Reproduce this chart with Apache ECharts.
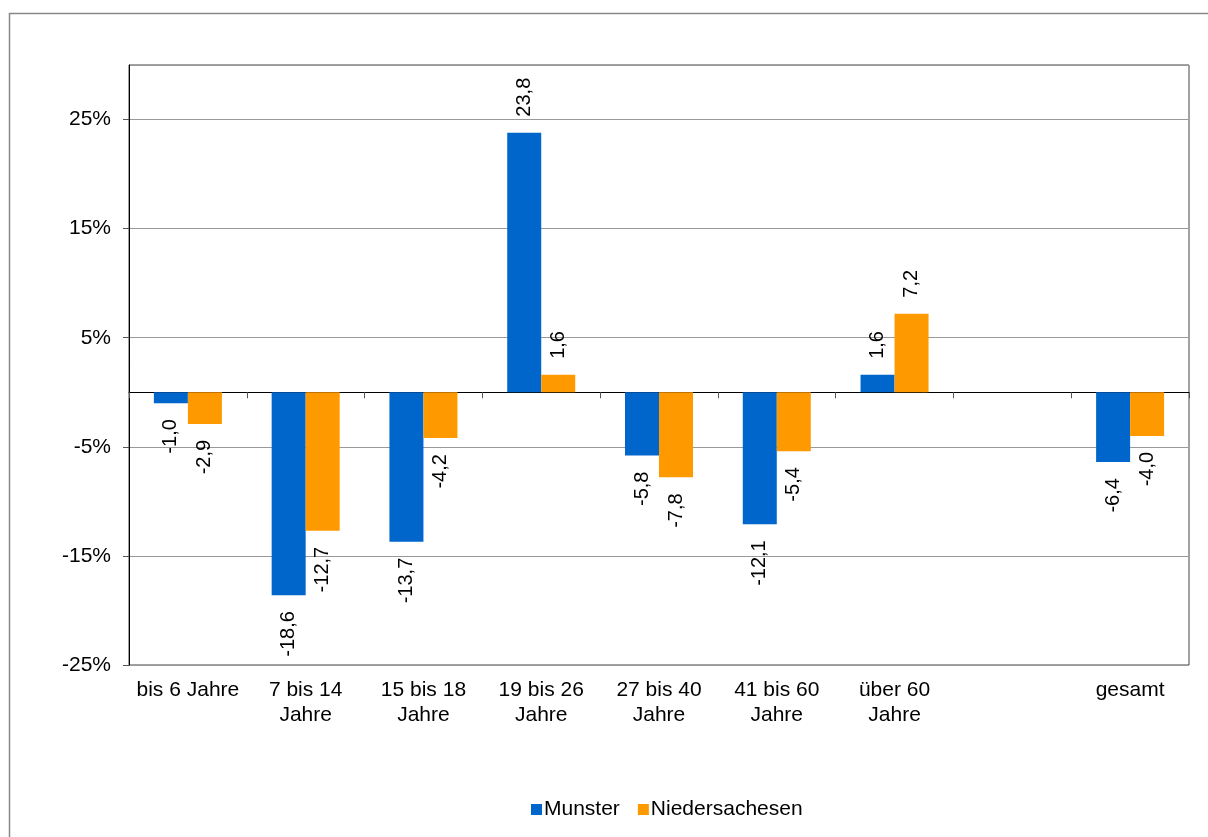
<!DOCTYPE html>
<html>
<head>
<meta charset="utf-8">
<script src="https://cdn.jsdelivr.net/npm/echarts@6/dist/echarts.min.js"></script>
<style>
  html, body { margin: 0; padding: 0; background: #fff; }
  #chart { width: 1208px; height: 837px; }
</style>
</head>
<body>
<div id="chart"></div>
<script>
// Age groups (the empty slot separates the total from the groups)
const categories = ['bis 6 Jahre', '7 bis 14\nJahre', '15 bis 18\nJahre', '19 bis 26\nJahre',
  '27 bis 40\nJahre', '41 bis 60\nJahre', 'über 60\nJahre', '', 'gesamt'];

// Change in percent
const munster = [-1.0, -18.6, -13.7, 23.8, -5.8, -12.1, 1.6, null, -6.4];
const niedersachsen = [-2.9, -12.7, -4.2, 1.6, -7.8, -5.4, 7.2, null, -4.0];

const seriesNames = ['Munster', 'Niedersachesen'];
const colors = ['#0066CC', '#FF9900'];

const FONT = 'Liberation Sans, Arial, sans-serif';

function fmt(v) {
  return v.toFixed(1).replace('.', ',');
}

function toData(values) {
  return values.map(v => {
    if (v === null) return null;
    const pos = v >= 0;
    return {
      value: v,
      label: {
        position: pos ? 'top' : 'bottom',
        align: pos ? 'left' : 'right'
      }
    };
  });
}

function barSeries(name, values, color) {
  return {
    name: name,
    type: 'bar',
    xAxisIndex: 0,
    data: toData(values),
    barWidth: 34,
    barGap: '0%',
    itemStyle: { color: color },
    label: {
      show: true,
      rotate: 90,
      distance: 16,
      verticalAlign: 'middle',
      color: '#000',
      fontFamily: FONT,
      fontSize: 20,
      formatter: p => fmt(p.value)
    }
  };
}

const chart = echarts.init(document.getElementById('chart'), null, { renderer: 'canvas' });

chart.setOption({
  animation: false,
  backgroundColor: '#fff',
  graphic: [{
    type: 'rect',
    shape: { x: 9.5, y: 13.5, width: 1400, height: 1000 },
    style: { fill: 'none', stroke: '#888', lineWidth: 1.5 },
    z: -10
  }],
  grid: {
    left: 129, top: 65, right: 19, bottom: 172,
    show: true, borderColor: '#444', borderWidth: 1
  },
  legend: {
    left: 526, top: 794,
    itemWidth: 11, itemHeight: 11, itemGap: 18,
    icon: 'rect',
    textStyle: { fontFamily: FONT, fontSize: 21, color: '#000', padding: [0, 0, 0, -3] },
    data: seriesNames
  },
  xAxis: [{
    type: 'category',
    data: categories,
    axisLine: { onZero: true, lineStyle: { color: '#000', width: 1 } },
    axisTick: { show: true, length: 6, lineStyle: { color: '#555' } },
    axisLabel: { show: false },
    splitLine: { show: false }
  }, {
    type: 'category',
    data: categories,
    position: 'bottom',
    axisLine: { show: false, onZero: false },
    axisTick: { show: false },
    axisLabel: {
      interval: 0,
      margin: 13,
      fontFamily: FONT,
      fontSize: 21,
      lineHeight: 25,
      color: '#000'
    }
  }],
  yAxis: {
    type: 'value',
    min: -25,
    max: 30,
    interval: 10,
    axisLine: { show: true, lineStyle: { color: '#000' } },
    axisTick: { show: true, length: 6, lineStyle: { color: '#555' } },
    axisLabel: {
      showMaxLabel: false,
      margin: 18,
      fontFamily: FONT,
      fontSize: 21,
      color: '#000',
      formatter: v => v + '%'
    },
    splitLine: { show: true, lineStyle: { color: '#999', width: 1 } }
  },
  series: [
    barSeries(seriesNames[0], munster, colors[0]),
    barSeries(seriesNames[1], niedersachsen, colors[1])
  ]
});
</script>
</body>
</html>
